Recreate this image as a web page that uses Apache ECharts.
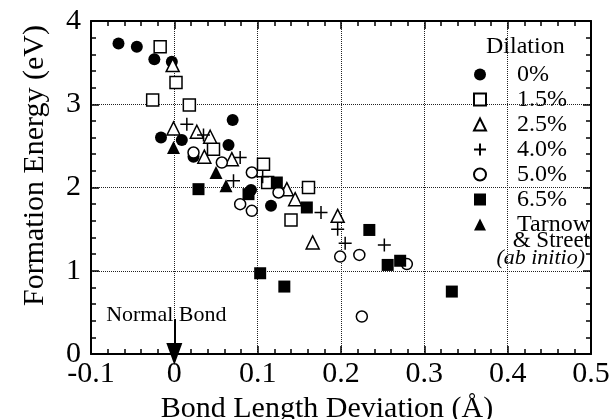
<!DOCTYPE html>
<html lang="en">
<head>
    <meta charset="UTF-8">
    <title>Formation Energy vs Bond Length Deviation</title>
    <script src="https://cdn.jsdelivr.net/npm/echarts@6/dist/echarts.min.js"></script>
</head>
<body style="margin:0">
<div id="main" style="width: 615px;height:419px;"></div>
<script>
    // data points [bond length deviation (A), formation energy (eV)]
    var dil0 = [[-0.067, 3.73], [-0.045, 3.69], [-0.024, 3.54], [-0.003, 3.51], [0.070, 2.81], [-0.016, 2.60],
        [0.009, 2.57], [0.065, 2.51], [0.023, 2.37], [0.092, 1.97], [0.116, 1.78]];
    var dil15 = [[-0.017, 3.69], [0.002, 3.26], [-0.026, 3.05], [0.018, 2.99], [0.047, 2.46], [0.107, 2.28],
        [0.112, 2.06], [0.161, 2.00], [0.140, 1.61]];
    var dil25 = [[-0.002, 3.47], [-0.001, 2.71], [0.027, 2.67], [0.043, 2.61], [0.036, 2.37], [0.069, 2.34],
        [0.135, 1.98], [0.145, 1.86], [0.196, 1.66], [0.166, 1.34]];
    var dil40 = [[0.015, 2.76], [0.035, 2.63], [0.079, 2.36], [0.071, 2.08], [0.106, 2.13], [0.176, 1.70],
        [0.196, 1.50], [0.205, 1.33], [0.252, 1.31]];
    var dil50 = [[0.023, 2.42], [0.057, 2.30], [0.093, 2.18], [0.125, 1.94], [0.079, 1.80], [0.093, 1.72],
        [0.199, 1.17], [0.222, 1.19], [0.279, 1.08], [0.225, 0.45]];
    var dil65 = [[0.029, 1.98], [0.089, 1.92], [0.123, 2.06], [0.159, 1.76], [0.234, 1.49], [0.256, 1.07],
        [0.271, 1.12], [0.103, 0.97], [0.132, 0.81], [0.333, 0.75]];
    var tarnow = [[-0.001, 2.48], [0.050, 2.18], [0.062, 2.02]];

    var names = ['0%', '1.5%', '2.5%', '4.0%', '5.0%', '6.5%', 'Tarnow & Street (ab initio)'];
    var xTicks = [-0.1, 0, 0.1, 0.2, 0.3, 0.4, 0.5];
    var yTicks = [0, 1, 2, 3, 4];
    var normalBond = [[0, 0.42], [0, 0]];

    var font = 'Liberation Serif';
    var plus = 'path://M5,0L5,10M0,5L10,5';
    var openStyle = {color: '#fff', borderColor: '#000', borderWidth: 1.5, opacity: 1};
    var fillStyle = {color: '#000', opacity: 1};

    var myChart = echarts.init(document.getElementById('main'));

    function axisX(pos, labels) {
        return {
            type: 'value', position: pos, min: xTicks[0], max: xTicks[xTicks.length - 1], interval: 0.1,
            axisLine: {onZero: false, lineStyle: {color: '#000', width: 2}},
            axisTick: {inside: true, length: 8, lineStyle: {color: '#000', width: 1.5}},
            minorTick: {show: true, splitNumber: 5, length: 5, lineStyle: {color: '#000', width: 1.5}},
            axisLabel: {show: labels, color: '#000', fontFamily: font, fontSize: 30, margin: 5,
                formatter: function (v) { return Math.abs(v) < 1e-9 ? '0' : v.toFixed(1); }},
            splitLine: {show: labels, lineStyle: {color: '#222', type: 'dotted', width: 1}},
            name: labels ? 'Bond Length Deviation (\u00C5)' : '',
            nameLocation: 'middle', nameGap: 22,
            nameTextStyle: {color: '#000', fontFamily: font, fontSize: 30, padding: [0, 28, 0, 0]}
        };
    }
    function axisY(pos, labels) {
        return {
            type: 'value', position: pos, min: yTicks[0], max: yTicks[yTicks.length - 1], interval: 1,
            axisLine: {onZero: false, lineStyle: {color: '#000', width: 2}},
            axisTick: {inside: true, length: 8, lineStyle: {color: '#000', width: 1.5}},
            minorTick: {show: true, splitNumber: 5, length: 5, lineStyle: {color: '#000', width: 1.5}},
            axisLabel: {show: labels, color: '#000', fontFamily: font, fontSize: 30, margin: 10},
            splitLine: {show: labels, lineStyle: {color: '#222', type: 'dotted', width: 1}},
            name: labels ? 'Formation Energy (eV)' : '',
            nameLocation: 'middle', nameGap: 41,
            nameTextStyle: {color: '#000', fontFamily: font, fontSize: 30, padding: [0, 0, 0, 44]}
        };
    }

    function sc(name, data, symbol, size, style) {
        return {name: name, type: 'scatter', data: data, symbol: symbol, symbolSize: size,
            itemStyle: style, emphasis: {disabled: true}, z: 3};
    }

    var series = [
        sc(names[0], dil0, 'circle', 12, fillStyle),
        sc(names[1], dil15, 'rect', 12, openStyle),
        sc(names[2], dil25, 'triangle', 13, openStyle),
        sc(names[3], dil40, plus, 13, {color: '#000', borderColor: '#000', borderWidth: 1.5, opacity: 1}),
        sc(names[4], dil50, 'circle', 11, openStyle),
        sc(names[5], dil65, 'rect', 12, fillStyle),
        sc(names[6], tarnow, 'triangle', 13, fillStyle)
    ];
    // arrow marking the normal bond length
    series[0].markLine = {
        silent: true, animation: false,
        symbol: ['none', 'triangle'], symbolSize: [16, 22],
        lineStyle: {color: '#000', width: 2, type: 'solid'},
        label: {show: true, position: 'start', distance: -7, formatter: 'Normal Bond',
            color: '#000', fontFamily: font, fontSize: 22, padding: [0, 16, 0, 0]},
        data: [[{coord: normalBond[0]}, {coord: normalBond[1]}]]
    };

    option = {
        animation: false,
        grid: {left: 91, right: 24, top: 21, bottom: 65, outerBoundsMode: 'none', containLabel: false},
        xAxis: [axisX('bottom', true), axisX('top', false)],
        yAxis: [axisY('left', true), axisY('right', false)],
        legend: {
            orient: 'vertical', left: 468, top: 57, itemGap: 0,
            itemWidth: 12, itemHeight: 12,
            data: names,
            formatter: function (n) { return n.indexOf('Tarnow') === 0 ? 'Tarnow' : n; },
            textStyle: {color: '#000', fontFamily: font, fontSize: 24, lineHeight: 25, padding: [0, 0, 0, 26]}
        },
        graphic: [
            {type: 'text', left: 486, top: 35, style: {text: 'Dilation', fill: '#000', font: '24px "Liberation Serif"'}},
            {type: 'text', right: 25, top: 229, style: {text: '& Street', fill: '#000', font: '23px "Liberation Serif"'}},
            {type: 'text', right: 30, top: 247, style: {text: '(ab initio)', fill: '#000', font: 'italic 22px "Liberation Serif"'}}
        ],
        series: series
    };

    myChart.setOption(option);
</script>
</body>
</html>
